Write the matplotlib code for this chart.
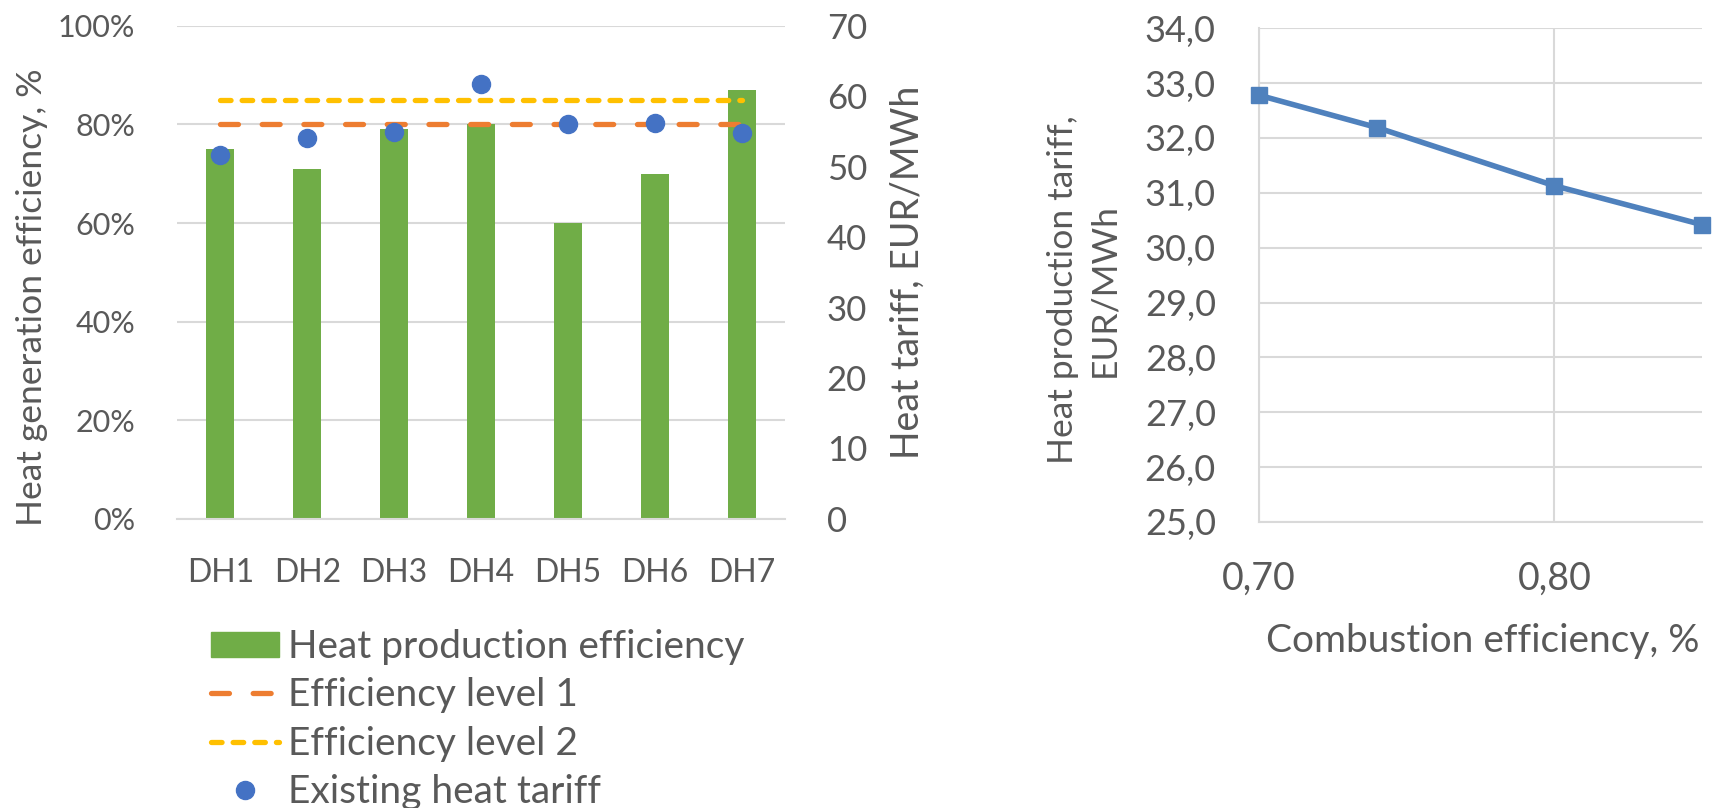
import matplotlib.pyplot as plt
from matplotlib.ticker import FuncFormatter, MultipleLocator
from matplotlib.lines import Line2D
from matplotlib.patches import Patch

plt.rcParams['font.family'] = ['Lato', 'DejaVu Sans']

# District heating plants
plants = ["DH1", "DH2", "DH3", "DH4", "DH5", "DH6", "DH7"]
efficiency = [0.75, 0.71, 0.79, 0.80, 0.60, 0.70, 0.87]
level_1 = [0.80] * 7
level_2 = [0.85] * 7
tariff = [51.7, 54.1, 54.9, 61.7, 56.0, 56.2, 54.8]

# Tariff sensitivity to combustion efficiency
comb_eff = [0.70, 0.74, 0.80, 0.85]
prod_tariff = [32.78, 32.19, 31.13, 30.42]

TXT = "#595959"
GRID = "#D9D9D9"
GREEN, ORANGE, YELLOW, BLUE = "#70AD47", "#ED7D31", "#FFC000", "#4472C4"
LW = 3.8
DASH_1 = (3.4, 4.5)
DASH_2 = (2.0, 2.1)

fig = plt.figure(figsize=(17.18, 8.08), dpi=100)

# ---- left: efficiency bars + tariff dots
ax = fig.add_axes([0.103, 0.358, 0.354, 0.610])
x = range(len(plants))
ax.bar(x, efficiency, width=0.32, color=GREEN, zorder=2)
ax.plot(x, level_1, color=ORANGE, lw=LW, dashes=DASH_1,
        dash_capstyle="round", zorder=3)
ax.plot(x, level_2, color=YELLOW, lw=LW, dashes=DASH_2,
        dash_capstyle="round", zorder=3)
ax.set_xlim(-0.5, 6.5)
ax.set_ylim(0, 1.0)
ax.yaxis.set_major_locator(MultipleLocator(0.2))
ax.yaxis.set_major_formatter(FuncFormatter(lambda v, p: f"{v*100:.0f}%"))
ax.set_xticks(list(x))
ax.set_xticklabels(plants)
ax.grid(axis="y", color=GRID, lw=1.5, zorder=0)
for s in ["top", "right", "left"]:
    ax.spines[s].set_visible(False)
ax.spines["bottom"].set_color(GRID)
ax.spines["bottom"].set_linewidth(1.5)
ax.tick_params(axis="y", length=0, labelsize=22, labelcolor=TXT, pad=30)
ax.tick_params(axis="x", length=0, labelsize=23, labelcolor=TXT, pad=28)
ax.set_ylabel("Heat generation efficiency, %", fontsize=25.5, color=TXT)
ax.yaxis.set_label_coords(-0.212, 0.45)

ax2 = ax.twinx()
ax2.plot(x, tariff, "o", color=BLUE, ms=13, zorder=4)
ax2.set_ylim(0, 70)
ax2.yaxis.set_major_locator(MultipleLocator(10))
for s in ax2.spines.values():
    s.set_visible(False)
ax2.tick_params(length=0, labelsize=25, labelcolor=TXT, pad=30)
ax2.set_ylabel("Heat tariff, EUR/MWh", fontsize=27, color=TXT)
ax2.yaxis.set_label_coords(1.172, 0.5)

handles = [
    Patch(color=GREEN),
    Line2D([], [], color=ORANGE, lw=LW, dashes=DASH_1, dash_capstyle="round"),
    Line2D([], [], color=YELLOW, lw=LW, dashes=DASH_2, dash_capstyle="round"),
    Line2D([], [], ls="none", marker="o", color=BLUE, ms=13),
]
labels = ["Heat production efficiency", "Efficiency level 1",
          "Efficiency level 2", "Existing heat tariff"]
fig.legend(handles, labels, loc="upper left", bbox_to_anchor=(0.1228, 0.221),
           frameon=False, fontsize=28, labelcolor=TXT, handlelength=1.75,
           handleheight=0.6, handletextpad=0.23, labelspacing=0.31,
           borderpad=0, borderaxespad=0)

# ---- right: production tariff vs combustion efficiency
bx = fig.add_axes([0.7328, 0.354, 0.2579, 0.611])
bx.plot(comb_eff, prod_tariff, color="#4F81BD", lw=4, marker="s", ms=12,
        clip_on=False, zorder=3)
bx.set_xlim(0.70, 0.85)
bx.set_ylim(25, 34)
bx.xaxis.set_major_locator(MultipleLocator(0.1))
bx.yaxis.set_major_locator(MultipleLocator(1))
bx.xaxis.set_major_formatter(FuncFormatter(lambda v, p: f"{v:.2f}".replace(".", ",")))
bx.yaxis.set_major_formatter(FuncFormatter(lambda v, p: f"{v:.1f}".replace(".", ",")))
bx.grid(True, color=GRID, lw=1.5, zorder=0)
for s in ["top", "right"]:
    bx.spines[s].set_visible(False)
for s in ["left", "bottom"]:
    bx.spines[s].set_color(GRID)
    bx.spines[s].set_linewidth(1.5)
bx.tick_params(axis="y", length=0, labelsize=26, labelcolor=TXT, pad=31)
bx.tick_params(axis="x", length=0, labelsize=27, labelcolor=TXT, pad=28)
bx.set_ylabel("Heat production tariff,\nEUR/MWh", fontsize=25.5, color=TXT,
              linespacing=1.33)
bx.yaxis.set_label_coords(-0.314, 0.47)
bx.set_xlabel("Combustion efficiency, %", fontsize=28, color=TXT)
bx.xaxis.set_label_coords(0.505, -0.204)

fig.savefig("out.png", dpi=100)
